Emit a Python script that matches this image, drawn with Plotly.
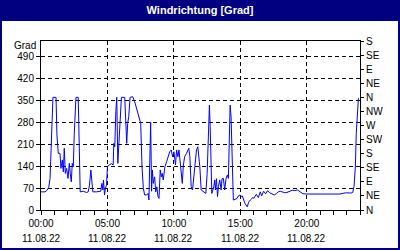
import pandas as pd
import plotly.graph_objects as go

# ---- data ----
day = "2022-08-11"
hours = [0.0, 0.3, 0.43, 0.58, 0.68, 0.75, 0.83, 0.9, 1.13, 1.2, 1.3, 1.43, 1.5, 1.6, 1.68, 1.75, 1.83, 1.93,
         2.03, 2.13, 2.2, 2.28, 2.35, 2.43, 2.5, 2.58, 2.63, 2.8, 2.88, 2.95, 3.18, 3.43, 3.55, 3.65, 3.75, 3.83,
         3.9, 4.18, 4.5, 4.58, 4.65, 4.7, 4.78, 4.85, 4.93, 5.0, 5.13, 5.3, 5.43, 5.48, 5.55, 5.63, 5.7, 5.78,
         5.85, 5.95, 6.05, 6.3, 6.38, 6.45, 6.52, 6.6, 6.7, 6.8, 6.9, 7.05, 7.18, 7.3, 7.43, 7.5, 7.6, 7.7,
         7.8, 7.95, 8.05, 8.12, 8.25, 8.32, 8.38, 8.45, 8.55, 8.63, 8.72, 8.8, 8.88, 8.97, 9.05, 9.12, 9.2,
         9.32, 9.45, 9.55, 9.68, 9.8, 9.9, 10.0, 10.06, 10.12, 10.2, 10.3, 10.38, 10.48, 10.56, 10.63, 10.7,
         10.8, 10.95, 11.06, 11.12, 11.2, 11.3, 11.4, 11.5, 11.6, 11.7, 11.8, 11.88, 11.95, 12.05, 12.25, 12.4,
         12.5, 12.6, 12.67, 12.73, 12.78, 12.85, 12.93, 13.0, 13.07, 13.12, 13.2, 13.28, 13.35, 13.45, 13.55,
         13.62, 13.72, 13.82, 13.92, 14.02, 14.1, 14.15, 14.23, 14.3, 14.38, 14.47, 14.6, 14.75, 14.85, 14.97,
         15.05, 15.15, 15.25, 15.35, 15.52, 15.62, 15.75, 15.85, 15.95, 16.0, 16.2, 16.35, 16.5, 16.6, 16.75,
         16.9, 17.05, 17.2, 17.4, 17.55, 17.7, 17.85, 18.0, 18.2, 18.35, 18.5, 18.7, 18.9, 19.1, 19.3, 19.5,
         19.7, 20.0, 20.5, 21.0, 21.5, 22.0, 22.5, 22.8, 23.0, 23.3, 23.45, 23.55, 23.65, 23.72, 23.78, 23.88,
         23.92]
values = [58, 58, 62, 72, 100, 170, 298, 360, 360, 240, 181, 181, 133, 160, 122, 197, 117, 133,
          101, 149, 117, 90, 149, 138, 240, 298, 360, 360, 240, 58, 60, 56, 58, 80, 128, 80,
          58, 58, 60, 85, 64, 96, 48, 70, 80, 138, 144, 148, 144, 213, 202, 314, 360, 149,
          213, 298, 360, 360, 277, 213, 277, 298, 360, 362, 362, 346, 325, 309, 293, 277, 138, 69,
          48, 48, 53, 32, 280, 60, 128, 85, 106, 58, 74, 43, 37, 128, 106, 117, 96,
          138, 154, 170, 186, 192, 170, 186, 165, 144, 192, 170, 192, 138, 106, 85, 138,
          170, 181, 192, 197, 170, 75, 64, 106, 144, 192, 202, 170, 138, 64, 58, 53,
          117, 266, 335, 266, 170, 53, 64, 75, 96, 64, 100, 43, 75, 96, 64,
          100, 101, 64, 100, 112, 101, 245, 335, 298, 128, 32, 34, 37, 45, 48,
          43, 45, 32, 21, 10, 25, 32, 37, 40, 37, 50, 40, 58, 45, 60,
          52, 62, 55, 50, 48, 52, 58, 60, 58, 55, 56, 60, 63, 62, 64, 58,
          52, 51, 51, 52, 52, 51, 51, 54, 55, 54, 56, 75, 138, 245, 298, 357,
          357]

y_ticks = [0, 70, 140, 210, 280, 350, 420, 490]
dir_vals = [0, 45, 90, 135, 180, 225, 270, 315, 360, 405, 450, 495, 540]
dir_labels = ["N", "NE", "E", "SE", "S", "SW", "W", "NW", "N", "NE", "E", "SE", "S"]
x_tick_hours = [0, 5, 10, 15, 20]
title_text = "Windrichtung [Grad]"
y_label = "Grad"

# ---- layout geometry ----
W, H = 400, 250
L, R, T, B = 41, 40, 41, 40
PW, PH = W - L - R, H - T - B
NAVY = "#000080"
FONT = "Liberation Sans"
FS = 10

start = pd.Timestamp(day)
times = [start + pd.Timedelta(hours=h) for h in hours]
tick_times = [start + pd.Timedelta(hours=h) for h in x_tick_hours]


def px_x(px):
    return (px - L) / PW


def px_y(py):
    return (H - B - py) / PH


fig = go.Figure()
fig.add_trace(go.Scatter(x=times, y=values, mode="lines",
                         line=dict(color="#0000FF", width=1), showlegend=False,
                         hoverinfo="skip"))
fig.add_trace(go.Scatter(x=[times[0]], y=[None], yaxis="y2", mode="lines",
                         showlegend=False, hoverinfo="skip"))

grid = dict(showgrid=True, gridcolor="black", gridwidth=1, griddash="4px,3px")

fig.update_layout(
    width=W, height=H,
    margin=dict(l=L, r=R, t=T, b=B, pad=0),
    paper_bgcolor="white", plot_bgcolor="white",
    font=dict(family=FONT, size=FS, color="black"),
    title=dict(text="<b>" + title_text + "</b>", x=0.5, xanchor="center",
               y=1 - 10.5 / H, yanchor="middle", yref="container",
               font=dict(family=FONT, size=11, color="white")),
    xaxis=dict(type="date", range=[start, start + pd.Timedelta(hours=24)],
               tickvals=tick_times, ticktext=[t.strftime("%H:%M") for t in tick_times],
               ticks="outside", ticklen=4, tickcolor="black", tickwidth=1,
               showline=True, linecolor="black", linewidth=1, mirror=True,
               zeroline=False, tickfont=dict(size=FS),
               minor=dict(dtick=3600000, ticks="outside", ticklen=4, tickcolor="black",
                          showgrid=False),
               **grid),
    yaxis=dict(range=[0, 540], tickvals=y_ticks, ticks="outside", ticklen=4,
               tickcolor="black", showline=True, linecolor="black", linewidth=1,
               mirror=True, zeroline=False, tickfont=dict(size=FS), **grid),
    yaxis2=dict(range=[0, 540], overlaying="y", side="right", tickvals=dir_vals,
                ticktext=dir_labels, ticks="outside", ticklen=3, tickcolor="black",
                showline=False, showgrid=False, zeroline=False, tickfont=dict(size=FS)),
    shapes=[
        dict(type="rect", xref="paper", yref="paper",
             x0=px_x(0), x1=px_x(W), y0=px_y(21), y1=px_y(0),
             fillcolor=NAVY, line=dict(width=0), layer="below"),
        dict(type="rect", xref="paper", yref="paper",
             x0=px_x(1), x1=px_x(W - 1), y0=px_y(H - 1), y1=px_y(1),
             fillcolor="rgba(0,0,0,0)", line=dict(color=NAVY, width=2)),
    ],
)

annotations = [dict(text=t.strftime("%d.%m.%y"), x=t, xref="x", y=0, yref="paper",
                    yshift=-28, yanchor="middle", xanchor="center", showarrow=False,
                    font=dict(family=FONT, size=FS, color="black"))
               for t in tick_times]
annotations.append(dict(text=y_label, x=0, xref="paper", y=527, yref="y",
                        xanchor="right", yanchor="middle", xshift=-3, showarrow=False,
                        font=dict(family=FONT, size=FS, color="black")))
fig.update_layout(annotations=annotations)

fig.write_html("out.html")
